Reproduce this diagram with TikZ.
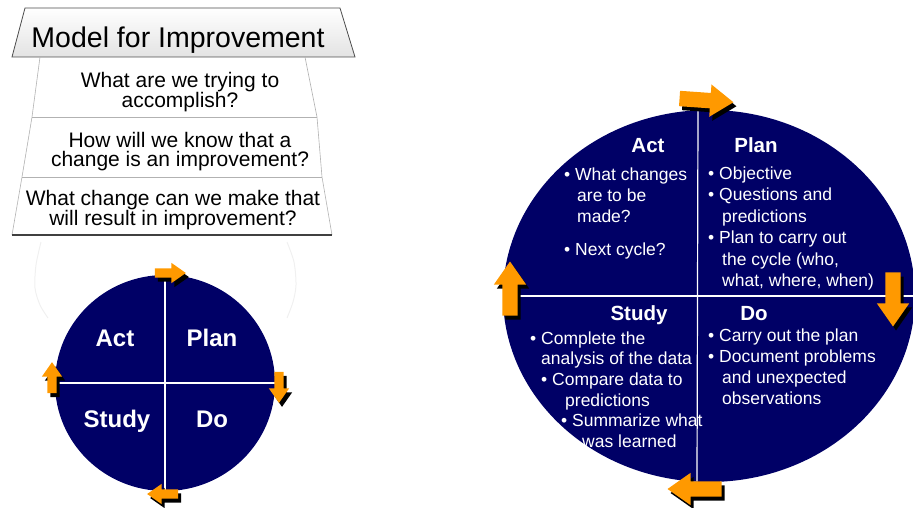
\documentclass[tikz,border=0pt]{standalone}
\usepackage{fontspec}
\setmainfont{Liberation Sans}
\usetikzlibrary{shapes.geometric,shapes.arrows,shadows}
\definecolor{cyclenavy}{RGB}{0,0,102}
\definecolor{arroworange}{RGB}{255,153,0}
\tikzset{
  cyclecircle/.style = {ellipse, fill=cyclenavy, inner sep=0pt},
  divider/.style = {white, line width=1.2pt},
  cyclearrow/.style = {single arrow, fill=arroworange, inner xsep=0pt,
    single arrow tip angle=70,
    drop shadow={shadow xshift=3pt, shadow yshift=-4pt, fill=black, opacity=1}},
  bigarrow/.style = {cyclearrow, minimum height=54pt, minimum width=32pt,
    inner ysep=7.5pt, single arrow head extend=8.5pt},
  smallarrow/.style = {cyclearrow, minimum height=31pt, minimum width=20pt,
    inner ysep=4.5pt, single arrow head extend=5.5pt},
  smalltitle/.style = {text=white, anchor=base, font=\bfseries\fontsize{24}{28}\selectfont},
  bigtitle/.style = {text=white, anchor=base, font=\bfseries\fontsize{20.5}{24}\selectfont},
  quadtext/.style = {text=white, align=left, anchor=north west, inner sep=0pt},
  questext/.style = {align=center, anchor=north, inner sep=0pt, font=\fontsize{21}{19.5}\selectfont},
  rowline/.style = {gray!60, line width=0.6pt},
  faintring/.style = {gray!12, line width=1pt}
  }

\begin{document}
\begin{tikzpicture}[x=1pt,y=-1pt]
\useasboundingbox (0,0) rectangle (913,508);

\draw[faintring] plot[smooth] coordinates {(41,242) (36,265) (35,288) (40,305) (48,318)};
\draw[faintring] plot[smooth] coordinates {(287,242) (294,262) (296,285) (293,302) (287,318)};

\shade[top color=white, bottom color=gray!22, draw=black!70, line width=0.8pt]
  (25,8) -- (340,8) -- (355,57) -- (12,57) -- cycle;
\draw[rowline] (40,57) -- (32,117) -- (22,177) -- (12,235);
\draw[rowline] (305,57) -- (317,117) -- (322,177) -- (332,235);
\draw[rowline] (32,117) -- (317,117);
\draw[rowline] (22,177) -- (322,177);
\draw[black!75, line width=1.4pt] (12,235) -- (332,235);

\node[anchor=base, font=\fontsize{28.5}{32}\selectfont] (modeltitle) at (178,48) {Model for Improvement};
\node[questext] (aim) at (180,71.7) {What are we trying to\\accomplish?};
\node[questext] (measure) at (180,131.7) {How will we know that a\\change is an improvement?};
\node[questext] (change) at (173,189.7) {What change can we make that\\will result in improvement?};

\node[cyclecircle, minimum width=220pt, minimum height=216pt] (smallcycle) at (165,383) {};
\draw[divider] (smallcycle.north) -- (smallcycle.south);
\draw[divider] (smallcycle.west) -- (smallcycle.east);
\node[smalltitle] (sact) at (115,346) {Act};
\node[smalltitle] (splan) at (212,346) {Plan};
\node[smalltitle] (sstudy) at (117,427) {Study};
\node[smalltitle] (sdo) at (212,427) {Do};

\node[cyclecircle, minimum width=412pt, minimum height=372pt] (bigcycle) at (709,296) {};
\coordinate (bigtop) at (698,111);
\coordinate (bigbottom) at (697,481);
\draw[divider] (bigtop) -- (bigbottom);
\draw[divider] (bigcycle.west) -- (bigcycle.east);

\node[bigtitle] (act) at (648,153) {Act};
\node[bigtitle] (plan) at (756,153) {Plan};
\node[bigtitle] (study) at (639,320) {Study};
\node[bigtitle] (do) at (754,320) {Do};

\node[quadtext, font=\fontsize{17.5}{21}\selectfont] (acttext) at (564,167.4)
  {\textbullet\ What changes\\\hspace*{13pt}are to be\\\hspace*{13pt}made?\\[12pt]\textbullet\ Next cycle?};
\node[quadtext, font=\fontsize{17.5}{21.5}\selectfont] (plantext) at (708,166.4)
  {\textbullet\ Objective\\\textbullet\ Questions and\\\hspace*{14pt}predictions\\\textbullet\ Plan to carry out\\\hspace*{14pt}the cycle (who,\\\hspace*{14pt}what, where, when)};
\node[quadtext, font=\fontsize{17.5}{20.6}\selectfont] (studytext) at (530,331.4)
  {\textbullet\ Complete the\\\hspace*{11pt}analysis of the data\\\hspace*{11pt}\textbullet\ Compare data to\\\hspace*{35pt}predictions\\\hspace*{31pt}\textbullet\ Summarize what\\\hspace*{52pt}was learned};
\node[quadtext, font=\fontsize{17.5}{21}\selectfont] (dotext) at (708,328.4)
  {\textbullet\ Carry out the plan\\\textbullet\ Document problems\\\hspace*{14pt}and unexpected\\\hspace*{14pt}observations};

\node[smallarrow] (stoparrow) at (167,273) {};
\node[smallarrow, rotate=-90] (srightarrow) at (279,384) {};
\node[smallarrow, rotate=180] (sbottomarrow) at (166,494) {};
\node[smallarrow, rotate=90] (sleftarrow) at (52,381) {};

\node[bigarrow, rotate=-4] (toparrow) at (701,100) {};
\node[bigarrow, rotate=-90] (rightarrow) at (893,294) {};
\node[bigarrow, rotate=180] (bottomarrow) at (700,489) {};
\node[bigarrow, rotate=90] (leftarrow) at (510,294) {};
\end{tikzpicture}
\end{document}
